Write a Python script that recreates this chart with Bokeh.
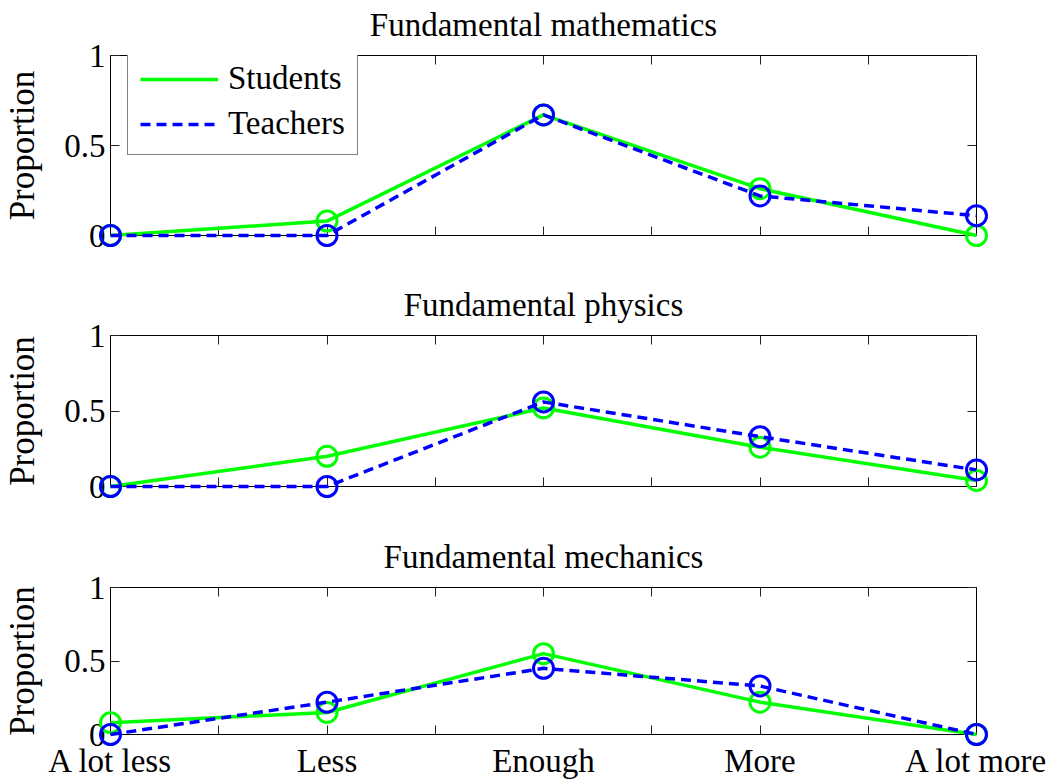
from bokeh.plotting import figure
from bokeh.models import LinearAxis, FixedTicker, Range1d, Legend, LegendItem
from bokeh.core.properties import value
from bokeh.layouts import column
from bokeh.embed import file_html
from bokeh.resources import INLINE

categories = ["A lot less", "Less", "Enough", "More", "A lot more"]
titles = ["Fundamental mathematics", "Fundamental physics", "Fundamental mechanics"]
math_students = [0.0, 0.08, 0.67, 0.26, 0.0]
math_teachers = [0.0, 0.0, 0.67, 0.22, 0.11]
phys_students = [0.0, 0.20, 0.52, 0.26, 0.04]
phys_teachers = [0.0, 0.0, 0.56, 0.33, 0.11]
mech_students = [0.08, 0.15, 0.55, 0.22, 0.0]
mech_teachers = [0.0, 0.22, 0.45, 0.33, 0.0]
y_ticks = [0, 0.5, 1]
y_tick_labels = ["0", "0.5", "1"]

FONT = "Liberation Serif"
FS = "33px"
GREEN = "#00ff00"
BLUE = "#0000ff"

xs = list(range(1, len(categories) + 1))
x_minor = [x + 0.5 for x in xs[:-1]]


def style_axis(ax, show_labels):
    ax.axis_line_color = "black"
    ax.axis_line_width = 1
    ax.major_tick_in = 9
    ax.major_tick_out = 0
    ax.minor_tick_in = 9
    ax.minor_tick_out = 0
    ax.major_tick_line_color = "#222222"
    ax.minor_tick_line_color = "#222222"
    ax.major_tick_line_width = 1
    ax.minor_tick_line_width = 1
    ax.major_label_text_font = FONT
    if show_labels:
        ax.major_label_text_font_size = FS
        ax.major_label_text_color = "black"
    else:
        ax.major_label_text_font_size = "0px"
        ax.major_label_text_color = None
        ax.major_label_standoff = 0


def make(title, students, teachers, height, top, bottom, x_labels, with_legend):
    p = figure(width=1056, height=height, output_backend="svg", toolbar_location=None,
               x_range=Range1d(xs[0], xs[-1]), y_range=Range1d(y_ticks[0], y_ticks[-1]),
               min_border_left=108, min_border_right=80,
               min_border_top=top, min_border_bottom=bottom,
               x_axis_location=None, y_axis_location=None)
    p.grid.visible = False
    p.outline_line_color = "black"
    p.outline_line_width = 1
    p.background_fill_color = "white"
    p.border_fill_color = "white"

    # title: centred over the axes, above the top edge
    p.text(x=[(xs[0] + xs[-1]) / 2], y=[y_ticks[-1]], text=[title], y_offset=-31,
           text_align="center", text_baseline="alphabetic",
           text_font=value(FONT), text_font_size=FS, text_color="black", level="overlay")

    x_ticker = FixedTicker(ticks=xs, minor_ticks=x_minor)
    xb = LinearAxis(ticker=x_ticker,
                    major_label_overrides={x: c for x, c in zip(xs, categories)})
    style_axis(xb, x_labels)
    if x_labels:
        xb.major_label_standoff = 8
    p.add_layout(xb, "below")

    xt = LinearAxis(ticker=FixedTicker(ticks=xs, minor_ticks=x_minor))
    style_axis(xt, False)
    p.add_layout(xt, "above")

    y_ticker = FixedTicker(ticks=y_ticks, minor_ticks=[])
    yl = LinearAxis(ticker=y_ticker,
                    major_label_overrides={t: s for t, s in zip(y_ticks, y_tick_labels)},
                    axis_label="Proportion")
    style_axis(yl, True)
    yl.major_label_standoff = 5
    yl.axis_label_text_font = FONT
    yl.axis_label_text_font_size = "35px"
    yl.axis_label_text_font_style = "normal"
    yl.axis_label_text_color = "black"
    yl.axis_label_standoff = 19
    p.add_layout(yl, "left")

    yr = LinearAxis(ticker=FixedTicker(ticks=y_ticks, minor_ticks=[]))
    style_axis(yr, False)
    p.add_layout(yr, "right")

    l1 = p.line(xs, students, line_color=GREEN, line_width=3.5, level="overlay")
    p.scatter(xs, students, marker="circle", size=20, fill_color=None,
              line_color=GREEN, line_width=3, level="overlay")
    l2 = p.line(xs, teachers, line_color=BLUE, line_width=3.5, line_dash="10 6", level="overlay")
    p.scatter(xs, teachers, marker="circle", size=20, fill_color=None,
              line_color=BLUE, line_width=3, level="overlay")

    if with_legend:
        lg = Legend(items=[LegendItem(label="Students", renderers=[l1]),
                           LegendItem(label="Teachers", renderers=[l2])],
                    location=(17, 80))
        lg.label_text_font = FONT
        lg.label_text_font_size = FS
        lg.label_text_color = "black"
        lg.glyph_width = 78
        lg.glyph_height = 30
        lg.label_height = 30
        lg.label_standoff = 10
        lg.padding = 12
        lg.spacing = 8
        lg.margin = 0
        lg.border_line_color = "black"
        lg.border_line_width = 1
        lg.background_fill_color = "white"
        lg.background_fill_alpha = 1
        p.add_layout(lg)
    return p


p1 = make(titles[0], math_students, math_teachers, 285, 55, 50, False, True)
p2 = make(titles[1], phys_students, phys_teachers, 252, 50, 51, False, False)
p3 = make(titles[2], mech_students, mech_teachers, 244, 50, 45, True, False)

layout = column(p1, p2, p3, spacing=0)
open("out.html", "w").write(file_html(layout, INLINE))
